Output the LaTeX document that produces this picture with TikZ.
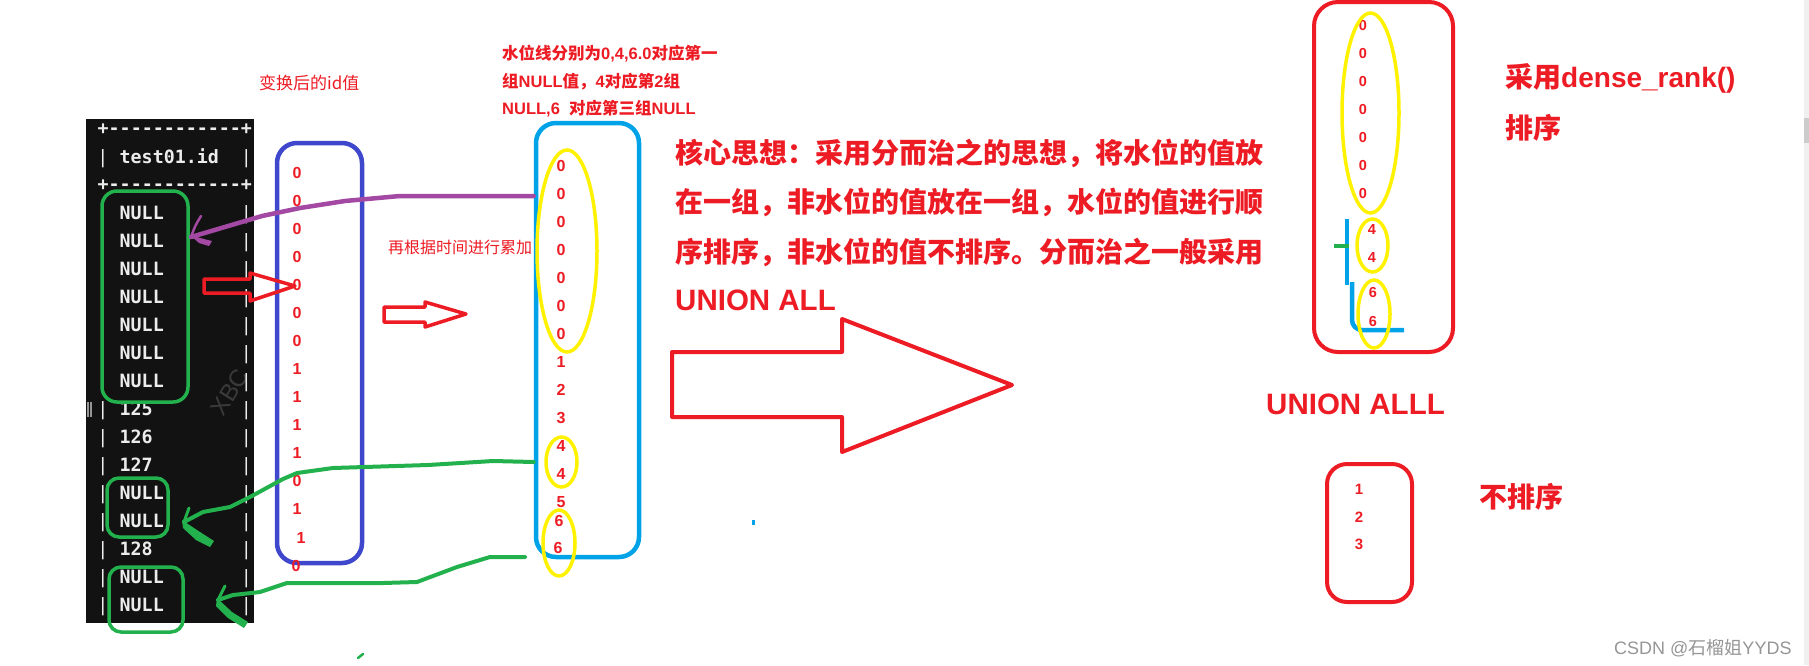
\documentclass[tikz,border=0pt]{standalone}
\usepackage{fontspec}
\usepackage{tikz}
\usetikzlibrary{shapes.geometric}
\setmainfont{Liberation Sans}
\newfontfamily\cjkfont{Noto Sans CJK SC}
\newfontfamily\latfont{Liberation Sans}
\newfontfamily\termfont[Ligatures=TeXOff]{DejaVu Sans Mono}
\newcommand\setfs[1]{\fontsize{#1}{#1}\selectfont}

\begin{document}
\begin{tikzpicture}[x=1pt,y=-1pt,every node/.style={inner sep=0pt}]
	% Define colors
	\definecolor{inkred}{RGB}{237,28,36}
	\definecolor{inkgreen}{RGB}{34,177,76}
	\definecolor{inkpurple}{RGB}{163,73,164}
	\definecolor{inkblue}{RGB}{63,72,204}
	\definecolor{inkcyan}{RGB}{0,162,232}
	\definecolor{inkyellow}{RGB}{255,242,0}
	\definecolor{termblack}{RGB}{18,18,18}
	\definecolor{termwhite}{RGB}{236,236,236}
	\definecolor{wmgray}{RGB}{58,58,58}
	\definecolor{markgray}{RGB}{150,150,150}

	% Styles
	\tikzstyle{term_bg} = [rectangle, fill=termblack]
	\tikzstyle{term_txt} = [text=termwhite, font=\termfont\bfseries\setfs{18.3}, anchor=base west]
	\tikzstyle{term_bar} = [text=termwhite, font=\termfont\setfs{18.3}, anchor=base]
	\tikzstyle{ink_box} = [rectangle, line width=4.5pt, rounded corners=20pt]
	\tikzstyle{ring} = [ellipse, draw=inkyellow, line width=3.5pt]
	\tikzstyle{val} = [text=inkred, font=\latfont\bfseries\setfs{16}]
	\tikzstyle{note_big} = [text=inkred, font=\cjkfont\bfseries\setfs{28}, anchor=west]
	\tikzstyle{note_small} = [text=inkred, font=\cjkfont\bfseries\setfs{16.5}, anchor=west]
	\tikzstyle{note_thin} = [text=inkred, font=\cjkfont\setfs{16}, anchor=west]
	\tikzstyle{hollow_arrow} = [draw=inkred, line width=4pt, line join=round]
	\tikzstyle{scribble} = [line cap=round, line join=round]

	% Canvas
	\fill[white] (0,0) rectangle (1809,665);
	\useasboundingbox (0,0) rectangle (1809,665);
	\fill[black!6] (1804,0) rectangle (1809,665);
	\fill[black!20] (1804,118) rectangle (1809,143);

	% Terminal output (left)
	\node[term_bg, minimum width=168pt, minimum height=504pt] (term) at (170,371) {};
	\begin{scope}
		\clip (86,119) rectangle (254,623);
		\node[text=wmgray, font=\latfont\setfs{24}, rotate=58] (wmark) at (230,392) {XBC};
	\end{scope}
	\fill[markgray] (86.5,402) rectangle (88.5,417);
	\fill[markgray] (90,402) rectangle (92,417);
	\node[term_txt] (hdr_top) at (97.5,134.5) {+------------+};
	\node[term_bar] (hdr_lbar) at (103,163.6) {|};
	\node[term_txt] (hdr_name) at (119.5,163.6) {test01.id};
	\node[term_bar] (hdr_rbar) at (246.5,163.6) {|};
	\node[term_txt] (hdr_bot) at (97.5,190.5) {+------------+};
	\foreach \t [count=\i from 0] in {NULL,NULL,NULL,NULL,NULL,NULL,NULL,125,126,127,NULL,NULL,128,NULL,NULL} {
		\node[term_bar] (lbar\i) at (103,{219.6+28*\i}) {|};
		\node[term_txt] (row\i) at (119.5,{219.6+28*\i}) {\t};
		\node[term_bar] (rbar\i) at (246.5,{219.6+28*\i}) {|};
	}

	% NULL groups
	\node[ink_box, draw=inkgreen, line width=3.5pt, rounded corners=15pt, minimum width=86pt, minimum height=211pt] (g1) at (145,296.5) {};
	\node[ink_box, draw=inkgreen, line width=3.5pt, rounded corners=12pt, minimum width=61pt, minimum height=59pt] (g2) at (137.5,507.5) {};
	\node[ink_box, draw=inkgreen, line width=3.5pt, rounded corners=12pt, minimum width=74pt, minimum height=65pt] (g3) at (146,599.5) {};

	% Transformed id values
	\node[note_thin, font=\cjkfont\setfs{17}] (idlabel) at (259,83) {变换后的id值};
	\node[ink_box, draw=inkblue, minimum width=85pt, minimum height=420pt] (idbox) at (319.5,353) {};
	\foreach \v [count=\i] in {0,0,0,0,0,0,0,1,1,1,1,0,1}
		\node[val] (id\i) at (297,{173+28*(\i-1)}) {\v};
	\node[val] (id14) at (301,538) {1};
	\node[val] (id15) at (296,566) {0};

	% Running sum values
	\node[note_small] (wline1) at (502,54) {水位线分别为{\latfont 0,4,6.0}对应第一};
	\node[note_small] (wline2) at (502,82) {组{\latfont NULL}值，{\latfont 4}对应第{\latfont 2}组};
	\node[note_small] (wline3) at (502,109) {{\latfont NULL,6\ \ }对应第三组{\latfont NULL}};
	\node[note_thin] (sumlabel) at (388,247) {再根据时间进行累加};
	\node[ink_box, draw=inkcyan, minimum width=103pt, minimum height=434pt] (cbox) at (587.5,340) {};
	\foreach \v [count=\i] in {0,0,0,0,0,0,0,1,2,3,4,4,5}
		\node[val] (cs\i) at (561,{166+28*(\i-1)}) {\v};
	\node[val] (cs14) at (559,521) {6};
	\node[val] (cs15) at (558,548) {6};
	\node[ring, minimum width=60pt, minimum height=202pt] (lz) at (567,251) {};
	\node[ring, minimum width=31pt, minimum height=50pt] (l4) at (561.5,462) {};
	\node[ring, minimum width=32pt, minimum height=66pt] (l6) at (559,543) {};

	% Hollow arrows
	\draw[hollow_arrow, line width=3.5pt] (204,279) -- (250,279) -- (250,273) -- (295,286) -- (250,301) -- (250,293) -- (204,293) -- cycle;
	\draw[hollow_arrow, line width=3.5pt] (384,307) -- (425,307) -- (425,302) -- (466,314) -- (425,327) -- (425,322) -- (384,322) -- cycle;
	\draw[hollow_arrow] (672,352) -- (842,352) -- (842,319) -- (1012,385) -- (842,452) -- (842,417) -- (672,417) -- cycle;

	% Hand drawn links back to the NULL groups
	\coordinate (p_tip) at (191,237);
	\draw[scribble, inkpurple, line width=4.5pt] (cbox.west |- 0,196) -- (400,196) -- (345,201) -- (300,208) -- (262,216) -- (p_tip);
	\draw[scribble, inkpurple, line width=2.5pt] (201,216) .. controls (195,226) .. (p_tip);
	\fill[inkpurple] (190,235) -- (204,239) -- (212,241) -- (209,246) -- (199,243) -- cycle;

	\coordinate (g_tip1) at (184,522);
	\draw[scribble, inkgreen, line width=4pt] (cbox.west |- 0,462) -- (493,461) -- (428,465) -- (333,468) -- (297,473) -- (283,479) -- (250,497) -- (230,507) -- (203,512) -- (g_tip1);
	\draw[scribble, inkgreen, line width=3pt] (189,508) -- (g_tip1);
	\fill[inkgreen] (182,520) -- (200,532) -- (214,541) -- (210,547) -- (196,540) -- (183,528) -- cycle;

	\coordinate (g_start2) at (525,557);
	\coordinate (g_tip2) at (218,600);
	\draw[scribble, inkgreen, line width=4pt] (g_start2) -- (490,557) -- (457,567) -- (417,582) -- (383,583) -- (287,583) -- (260,592) -- (233,595) -- (g_tip2);
	\draw[scribble, inkgreen, line width=3pt] (225,586) -- (g_tip2);
	\fill[inkgreen] (217,598) -- (232,612) -- (248,622) -- (244,628) -- (228,618) -- (216,606) -- cycle;
	\draw[scribble, inkgreen, line width=2.5pt] (358,658) -- (363,654);

	% Core idea
	\node[note_big] (idea1) at (675,153) {核心思想：采用分而治之的思想，将水位的值放};
	\node[note_big] (idea2) at (675,202) {在一组，非水位的值放在一组，水位的值进行顺};
	\node[note_big] (idea3) at (675,252) {序排序，非水位的值不排序。分而治之一般采用};
	\node[note_big, font=\latfont\bfseries\setfs{29.5}] (idea4) at (675,300) {UNION ALL};
	\fill[inkcyan] (751.5,519.5) rectangle (754.5,524.5);

	% Water line group (right)
	\node[ink_box, draw=inkred, line width=4pt, rounded corners=24pt, minimum width=139pt, minimum height=350pt] (rankbox) at (1383.5,177) {};
	\foreach \i in {1,...,7}
		\node[val, font=\latfont\bfseries\setfs{14.5}] (rz\i) at (1363,{26+28*(\i-1)}) {0};
	\node[val, font=\latfont\bfseries\setfs{14.5}] (r4a) at (1372,230) {4};
	\node[val, font=\latfont\bfseries\setfs{14.5}] (r4b) at (1372,258) {4};
	\node[val, font=\latfont\bfseries\setfs{14.5}] (r6a) at (1373,293) {6};
	\node[val, font=\latfont\bfseries\setfs{14.5}] (r6b) at (1373,321) {6};
	\draw[inkcyan, line width=4.5pt] (1347,219) -- (1347,285);
	\draw[inkcyan, line width=4.5pt, rounded corners=10pt] (1352,282) |- (1404,330);
	\draw[inkgreen, line width=4.5pt] (1334,246) -- (1349,246);
	\node[ring, minimum width=57pt, minimum height=200pt] (rz) at (1370.5,113) {};
	\node[ring, minimum width=31pt, minimum height=53pt] (r4) at (1372.5,245.5) {};
	\node[ring, minimum width=32pt, minimum height=68pt] (r6) at (1374,314) {};
	\node[note_big] (rank1) at (1505,78) {采用{\latfont dense\_rank()}};
	\node[note_big] (rank2) at (1505,128) {排序};

	\node[note_big, font=\latfont\bfseries\setfs{29.5}] (union) at (1266,404) {UNION ALLL};

	% Non water line group (right)
	\node[ink_box, draw=inkred, line width=4pt, minimum width=85pt, minimum height=138pt] (plainbox) at (1369.5,533) {};
	\node[val, font=\latfont\bfseries\setfs{15}] (p1) at (1359,489) {1};
	\node[val, font=\latfont\bfseries\setfs{15}] (p2) at (1359,517) {2};
	\node[val, font=\latfont\bfseries\setfs{15}] (p3) at (1359,544) {3};
	\node[note_big] (norank) at (1479,497) {不排序};

	% Watermark
	\node[text=markgray, font=\cjkfont\setfs{18}, anchor=west] (csdn) at (1614,648) {{\latfont CSDN @}石榴姐{\latfont YYDS}};
\end{tikzpicture}
\end{document}
